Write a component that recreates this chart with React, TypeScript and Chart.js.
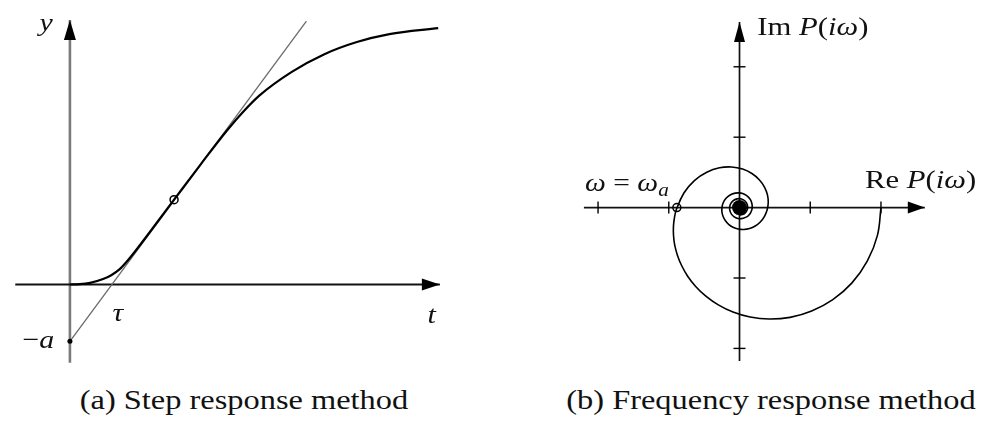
import React, { useEffect, useRef } from "react";
import { Chart, registerables } from "chart.js";
Chart.register(...registerables);

// ---------- (a) Step response ----------
const stepT = [0, 0.10, 0.207, 0.34, 0.423, 0.507, 0.59, 0.673, 0.84, 1.067, 1.34, 1.607, 1.773, 1.94, 2.273, 2.607, 2.94, 3.273, 3.773];
const stepY = [0, 0.0012, 0.0062, 0.0206, 0.035, 0.0571, 0.0901, 0.1279, 0.209, 0.321, 0.455, 0.582, 0.653, 0.715, 0.805, 0.872, 0.918, 0.948, 0.9705];
const tangentT = [0, 2.423];
const tangentY = [-0.215, 0.9975];
const inflection = [1.067, 0.321];
const minusA = [0, -0.215];
const stepAxisT = [-0.56, 3.79];
const stepAxisY = [-0.296, 1.001];
const stepView = { xMin: -0.66, xMax: 3.94, yMin: -0.3408, yMax: 1.0563 };

// ---------- (b) Frequency response (Nyquist spiral) ----------
const spiralRe = [
  2.000, 1.950, 1.808, 1.590, 1.319, 1.020, 0.715, 0.421, 0.150, -0.092, -0.300,
  -0.476, -0.620, -0.733, -0.817, -0.877, -0.916, -0.933, -0.934, -0.920, -0.894,
  -0.784, -0.634, -0.463, -0.283, -0.112, 0.044, 0.175, 0.279, 0.353, 0.395, 0.406,
  0.390, 0.351, 0.294, 0.222, 0.142, 0.060, -0.019, -0.092, -0.154, -0.201, -0.233,
  -0.249, -0.248, -0.232, -0.202, -0.161, -0.113, -0.060, -0.006, 0.045, 0.091, 0.129,
  0.158, 0.174, 0.180, 0.175, 0.158, 0.133, 0.100, 0.023, -0.054, -0.112, -0.139,
  -0.132, -0.093, -0.035, 0.029, 0.081, 0.111, 0.113, 0.087, 0.043, -0.010,
];
const spiralIm = [
  0, -0.395, -0.758, -1.069, -1.307, -1.469, -1.559, -1.583, -1.555, -1.484, -1.382,
  -1.258, -1.120, -0.974, -0.826, -0.679, -0.534, -0.397, -0.265, -0.144, -0.031,
  0.211, 0.388, 0.502, 0.565, 0.577, 0.547, 0.484, 0.396, 0.292, 0.181, 0.070,
  -0.035, -0.128, -0.204, -0.261, -0.297, -0.310, -0.303, -0.278, -0.237, -0.184, -0.123,
  -0.059, 0.005, 0.066, 0.118, 0.160, 0.190, 0.206, 0.209, 0.199, 0.177, 0.145,
  0.106, 0.062, 0.016, -0.029, -0.070, -0.105, -0.132, -0.157, -0.143, -0.096, -0.029,
  0.040, 0.095, 0.124, 0.122, 0.090, 0.039, -0.018, -0.068, -0.099, -0.104,
];
const omegaA = [-0.886, 0];
const nyqAxisRe = [-2.2, 2.62];
const nyqAxisIm = [-2.18, 2.637];
const nyqTicks = [-2, -1, 1, 2];
const nyqView = { xMin: -2.432, xMax: 3.379, yMin: -2.342, yMax: 2.842 };

type Seg = { t: string; it?: boolean; sub?: boolean };
const FONT = "'Liberation Serif', 'Times New Roman', serif";

function drawRich(ctx: any, segs: Seg[], x: number, y: number, size: number, align: string, stretch: number) {
  ctx.save();
  const fontFor = (s: Seg) => `${s.it ? "italic " : ""}${s.sub ? Math.round(size * 0.7) : size}px ${FONT}`;
  let w = 0;
  const widths = segs.map((s) => {
    ctx.font = fontFor(s);
    const m = ctx.measureText(s.t).width;
    w += m;
    return m;
  });
  const total = w * stretch;
  const x0 = align === "left" ? x : align === "right" ? x - total : x - total / 2;
  ctx.translate(x0, y);
  ctx.scale(stretch, 1);
  ctx.fillStyle = "#111";
  ctx.textBaseline = "alphabetic";
  ctx.textAlign = "left";
  let cx = 0;
  segs.forEach((s, i) => {
    ctx.font = fontFor(s);
    ctx.fillText(s.t, cx, s.sub ? size * 0.22 : 0);
    cx += widths[i];
  });
  ctx.restore();
}

function arrowHead(ctx: any, tx: number, ty: number, dir: string, len: number, half: number) {
  ctx.save();
  ctx.fillStyle = "#000";
  ctx.beginPath();
  if (dir === "right") {
    ctx.moveTo(tx, ty);
    ctx.lineTo(tx - len, ty - half);
    ctx.lineTo(tx - len, ty + half);
  } else {
    ctx.moveTo(tx, ty);
    ctx.lineTo(tx - half, ty + len);
    ctx.lineTo(tx + half, ty + len);
  }
  ctx.closePath();
  ctx.fill();
  ctx.restore();
}

const seg2 = (xs: number[], ys: number[]) => xs.map((x, i) => ({ x, y: ys[i] }));

const baseOptions = (view: any) => ({
  animation: false as const,
  responsive: false,
  maintainAspectRatio: false,
  events: [] as any[],
  layout: { padding: 0 },
  plugins: { legend: { display: false }, tooltip: { enabled: false } },
  scales: {
    x: { type: "linear" as const, min: view.xMin, max: view.xMax, display: false },
    y: { type: "linear" as const, min: view.yMin, max: view.yMax, display: false },
  },
});

function StepChart() {
  const ref = useRef<HTMLCanvasElement>(null);
  useEffect(() => {
    const plugin = {
      id: "stepDecor",
      afterDatasetsDraw(chart: any) {
        const { ctx } = chart;
        const xs = chart.scales.x, ys = chart.scales.y;
        arrowHead(ctx, xs.getPixelForValue(stepAxisT[1]), ys.getPixelForValue(0), "right", 18, 6);
        arrowHead(ctx, xs.getPixelForValue(0), ys.getPixelForValue(stepAxisY[1]), "up", 20, 6);
        const P = (x: number, y: number) => [xs.getPixelForValue(x), ys.getPixelForValue(y)];
        let p = P(-0.243, 0.961);
        drawRich(ctx, [{ t: "y", it: true }], p[0], p[1], 26, "center", 1.15);
        p = P(0.49, -0.14);
        drawRich(ctx, [{ t: "τ", it: true }], p[0], p[1], 26, "center", 1.15);
        p = P(3.707, -0.145);
        drawRich(ctx, [{ t: "t", it: true }], p[0], p[1], 26, "center", 1.15);
        p = P(-0.16, -0.2415);
        drawRich(ctx, [{ t: "−" }, { t: "a", it: true }], p[0], p[1], 26, "right", 1.15);
      },
    };
    const chart = new Chart(ref.current as HTMLCanvasElement, {
      type: "scatter",
      data: {
        datasets: [
          {
            data: [{ x: inflection[0], y: inflection[1] }],
            pointRadius: 4, pointBorderWidth: 1.5, pointBorderColor: "#000",
            pointBackgroundColor: "rgba(0,0,0,0)", showLine: false, order: 0,
          },
          {
            data: [{ x: minusA[0], y: minusA[1] }],
            pointRadius: 2.5, pointBorderWidth: 0, pointBackgroundColor: "#000", showLine: false, order: 0,
          },
          {
            data: seg2(stepT, stepY), showLine: true, borderColor: "#000", borderWidth: 2.2,
            pointRadius: 0, cubicInterpolationMode: "monotone", order: 1,
          },
          {
            data: seg2(tangentT, tangentY), showLine: true, borderColor: "#6a6a6a", borderWidth: 1.3,
            pointRadius: 0, order: 2,
          },
          {
            data: [{ x: stepAxisT[0], y: 0 }, { x: stepAxisT[1], y: 0 }], showLine: true,
            borderColor: "#111", borderWidth: 2, pointRadius: 0, order: 3,
          },
          {
            data: [{ x: 0, y: stepAxisY[0] }, { x: 0, y: stepAxisY[1] }], showLine: true,
            borderColor: "#7a7a7a", borderWidth: 2.6, pointRadius: 0, order: 3,
          },
        ] as any,
      },
      options: baseOptions(stepView) as any,
      plugins: [plugin],
    });
    return () => chart.destroy();
  }, []);
  return <canvas ref={ref} width={460} height={380} style={{ position: "absolute", left: 0, top: 0 }} />;
}

function NyquistChart() {
  const ref = useRef<HTMLCanvasElement>(null);
  useEffect(() => {
    const plugin = {
      id: "nyqDecor",
      afterDatasetsDraw(chart: any) {
        const { ctx } = chart;
        const xs = chart.scales.x, ys = chart.scales.y;
        const x0 = xs.getPixelForValue(0), y0 = ys.getPixelForValue(0);
        ctx.save();
        ctx.strokeStyle = "#000";
        ctx.lineWidth = 1.4;
        nyqTicks.forEach((v) => {
          const px = xs.getPixelForValue(v);
          ctx.beginPath(); ctx.moveTo(px, y0 - 6); ctx.lineTo(px, y0 + 6); ctx.stroke();
          const py = ys.getPixelForValue(v);
          ctx.beginPath(); ctx.moveTo(x0 - 6, py); ctx.lineTo(x0 + 6, py); ctx.stroke();
        });
        ctx.restore();
        arrowHead(ctx, xs.getPixelForValue(nyqAxisRe[1]), y0, "right", 17, 6);
        arrowHead(ctx, x0, ys.getPixelForValue(nyqAxisIm[1]), "up", 20, 5.5);
        const P = (x: number, y: number) => [xs.getPixelForValue(x), ys.getPixelForValue(y)];
        let p = P(0.251, 2.453);
        drawRich(ctx, [{ t: "Im " }, { t: "P", it: true }, { t: "(" }, { t: "iω", it: true }, { t: ")" }], p[0], p[1], 26, "left", 1.18);
        p = P(1.774, 0.273);
        drawRich(ctx, [{ t: "Re " }, { t: "P", it: true }, { t: "(" }, { t: "iω", it: true }, { t: ")" }], p[0], p[1], 26, "left", 1.18);
        p = P(-2.183, 0.24);
        drawRich(ctx, [{ t: "ω", it: true }, { t: " = " }, { t: "ω", it: true }, { t: "a", it: true, sub: true }], p[0], p[1], 25, "left", 1.18);
      },
    };
    const chart = new Chart(ref.current as HTMLCanvasElement, {
      type: "scatter",
      data: {
        datasets: [
          {
            data: [{ x: omegaA[0], y: omegaA[1] }],
            pointRadius: 4, pointBorderWidth: 1.5, pointBorderColor: "#000",
            pointBackgroundColor: "rgba(0,0,0,0)", showLine: false, order: 0,
          },
          {
            data: [{ x: 0, y: 0 }],
            pointRadius: 7.5, pointBorderWidth: 0, pointBackgroundColor: "#000", showLine: false, order: 0,
          },
          {
            data: seg2(spiralRe, spiralIm), showLine: true, borderColor: "#000", borderWidth: 1.6,
            pointRadius: 0, tension: 0.4, order: 1,
          },
          {
            data: [{ x: nyqAxisRe[0], y: 0 }, { x: nyqAxisRe[1], y: 0 }], showLine: true,
            borderColor: "#111", borderWidth: 1.7, pointRadius: 0, order: 3,
          },
          {
            data: [{ x: 0, y: nyqAxisIm[0] }, { x: 0, y: nyqAxisIm[1] }], showLine: true,
            borderColor: "#111", borderWidth: 1.7, pointRadius: 0, order: 3,
          },
        ] as any,
      },
      options: baseOptions(nyqView) as any,
      plugins: [plugin],
    });
    return () => chart.destroy();
  }, []);
  return <canvas ref={ref} width={426} height={380} style={{ position: "absolute", left: 560, top: 0 }} />;
}

const captionStyle: React.CSSProperties = {
  position: "absolute",
  top: 385,
  textAlign: "center",
  font: `27px ${FONT}`,
  color: "#111",
  transform: "scaleX(1.2)",
  whiteSpace: "nowrap",
  lineHeight: "31px",
};

export default function App() {
  return (
    <div style={{ position: "fixed", left: 0, top: 0, width: 986, height: 426, background: "#fff", overflow: "hidden" }}>
      <StepChart />
      <NyquistChart />
      <div style={{ ...captionStyle, left: 44, width: 400 }}>(a) Step response method</div>
      <div style={{ ...captionStyle, left: 571, width: 400 }}>(b) Frequency response method</div>
    </div>
  );
}
